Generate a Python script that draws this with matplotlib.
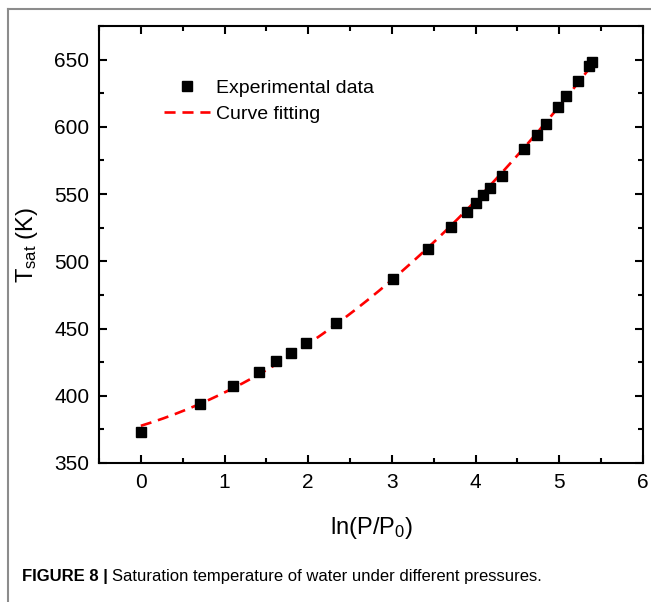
import numpy as np
import matplotlib
matplotlib.use("Agg")
import matplotlib.pyplot as plt
from matplotlib.lines import Line2D
from matplotlib.ticker import MultipleLocator

plt.rcParams['font.family'] = ['Liberation Sans', 'DejaVu Sans']
plt.rcParams['mathtext.fontset'] = 'custom'
plt.rcParams['mathtext.rm'] = 'Liberation Sans'
plt.rcParams['mathtext.it'] = 'Liberation Sans:italic'

# ln(P/P0) and saturation temperature (K)
ln_p = [0.0, 0.71, 1.10, 1.41, 1.62, 1.79, 1.97, 2.33, 3.01, 3.43, 3.71, 3.90,
        4.00, 4.09, 4.17, 4.31, 4.58, 4.73, 4.84, 4.98, 5.08, 5.22, 5.35, 5.39]
t_sat = [373.3, 394.0, 407.3, 418.0, 425.7, 432.0, 439.0, 454.0, 487.0, 509.0, 525.5, 537.0,
         543.4, 549.5, 554.5, 563.7, 583.8, 594.0, 602.0, 614.6, 622.7, 634.0, 645.0, 648.0]

x_ticks = [0, 1, 2, 3, 4, 5, 6]
y_ticks = [350, 400, 450, 500, 550, 600, 650]

fig = plt.figure(figsize=(6.51, 6.02), dpi=100)
ax = fig.add_axes([99 / 651, 1 - 463 / 602, 544 / 651, 437 / 602])

# quadratic curve fitting of the data
fit = np.poly1d(np.polyfit(ln_p, t_sat, 2))
xf = np.linspace(min(ln_p), max(ln_p), 200)

ax.plot(xf, fit(xf), color='#ff0000', linestyle='--', dashes=(4.2, 2.6), linewidth=1.9,
        label='Curve fitting', zorder=2)
ax.plot(ln_p, t_sat, linestyle='none', marker='s', markersize=7, color='black',
        label='Experimental data', zorder=3)

ax.set_xlim(-0.5, 6)
ax.set_ylim(350, 675)
ax.set_xticks(x_ticks)
ax.set_yticks(y_ticks)
ax.xaxis.set_minor_locator(MultipleLocator(0.5))
ax.yaxis.set_minor_locator(MultipleLocator(25))
ax.tick_params(which='both', direction='in', top=True, right=True, width=1.5)
ax.tick_params(which='major', length=6)
ax.tick_params(which='minor', length=3.5)
ax.tick_params(axis='x', labelsize=15, pad=7)
ax.tick_params(axis='y', labelsize=15, pad=7)
for s in ax.spines.values():
    s.set_linewidth(1.5)

ax.set_xlabel(r"ln(P/P$_{\rm 0}$)", fontsize=17, labelpad=17)
ax.set_ylabel(r"T$_{\rm sat}$ (K)", fontsize=17, labelpad=10)

h, l = ax.get_legend_handles_labels()
ax.legend(h[::-1], l[::-1], loc='upper left', bbox_to_anchor=(0.119, 0.878),
          frameon=False, fontsize=14, handlelength=2.4, handletextpad=0.3,
          labelspacing=0.45, borderpad=0, borderaxespad=0)

# gray figure frame (left and top)
fig.add_artist(Line2D([8 / 651, 8 / 651], [0, 1 - 9 / 602], color='#8c8c8c', linewidth=1.5))
fig.add_artist(Line2D([8 / 651, 1], [1 - 9 / 602, 1 - 9 / 602], color='#8c8c8c', linewidth=1.5))

t1 = fig.text(22 / 651, 1 - 576 / 602, "FIGURE 8 |", fontsize=12, fontweight='bold',
              va='center', ha='left', family=['Liberation Sans Narrow', 'Liberation Sans'])
ax.annotate("Saturation temperature of water under different pressures.",
            xy=(1, 0.5), xycoords=t1, xytext=(3, 0), textcoords='offset points',
            va='center', ha='left', fontsize=12, annotation_clip=False,
            family=['Liberation Sans Narrow', 'Liberation Sans'])

plt.savefig("out.png", dpi=100)
